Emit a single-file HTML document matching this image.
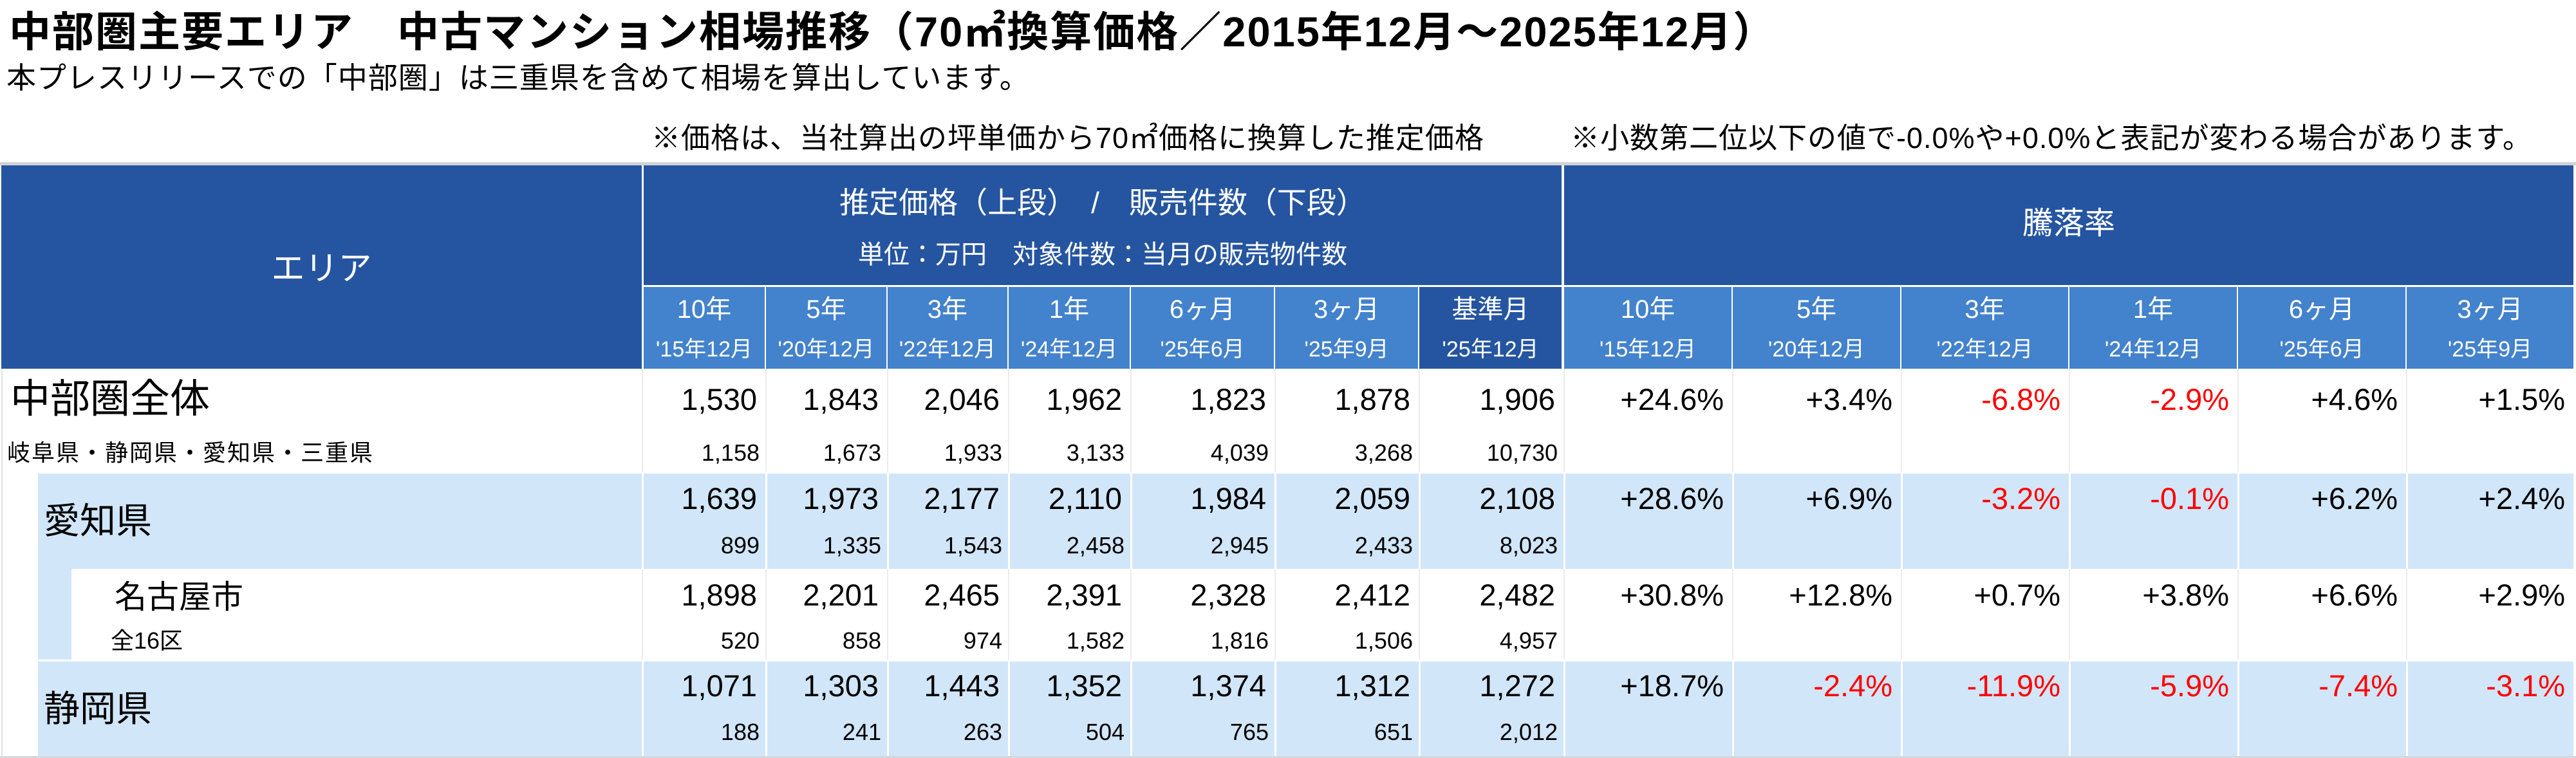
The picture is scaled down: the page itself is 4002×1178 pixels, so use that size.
<!DOCTYPE html>
<html><head><meta charset="utf-8">
<style>
*{margin:0;padding:0;box-sizing:border-box}
body{width:4002px;height:1178px;background:#fff;position:relative;overflow:hidden;font-family:"Liberation Sans","Noto Sans CJK JP",sans-serif;color:#000}
.a{position:absolute;white-space:nowrap}
.dk{background:#2555A0}
.lt{background:#4382CC}
.w{color:#fff;text-align:center}
table{position:absolute;left:997px;top:573px;border-collapse:separate;border-spacing:0;table-layout:fixed;width:3001px}
td{position:relative;padding:0;border-left:2px solid #ececec}
tr.b td{background:#D1E6F8;border-left:3px solid #fff}
tr.g td{border-top:3px solid #fff}
.big{position:absolute;right:13px;font-size:47px;line-height:48px}
.sm{position:absolute;right:9px;font-size:36px;line-height:40px}
.r{color:#f00}
.s2{font-size:34px;line-height:38px}
</style></head><body>
<div class="a" style="left:14px;top:12px;font-size:65px;font-weight:bold;line-height:76px;letter-spacing:2px">中部圏主要エリア　中古マンション相場推移（70㎡換算価格／2015年12月～2025年12月）</div>
<div class="a" style="left:10px;top:94px;font-size:46px;line-height:54px;letter-spacing:1px">本プレスリリースでの「中部圏」は三重県を含めて相場を算出しています。</div>
<div class="a" style="left:1012px;top:188px;font-size:45px;line-height:54px;letter-spacing:1px">※価格は、当社算出の坪単価から70㎡価格に換算した推定価格</div>
<div class="a" style="left:2440px;top:188px;font-size:45px;line-height:54px;letter-spacing:1px">※小数第二位以下の値で-0.0%や+0.0%と表記が変わる場合があります。</div>

<div class="a" style="left:0;top:252px;width:4002px;height:5px;background:#cfd3d8"></div>
<div class="a dk" style="left:2px;top:257px;width:995px;height:316px"></div>
<div class="a w" style="left:2px;top:388px;width:995px;font-size:52px;line-height:60px">エリア</div>
<div class="a dk" style="left:1000px;top:257px;width:1426px;height:186px"></div>
<div class="a w" style="left:1000px;top:288px;width:1426px;font-size:46px;line-height:54px">推定価格（上段）　/　販売件数（下段）</div>
<div class="a w" style="left:1000px;top:373px;width:1426px;font-size:40px;line-height:46px">単位：万円　対象件数：当月の販売物件数</div>
<div class="a dk" style="left:2430px;top:257px;width:1568px;height:186px"></div>
<div class="a w" style="left:2430px;top:320px;width:1568px;font-size:48px;line-height:56px">騰落率</div>

<!-- subheader -->
<div class="a lt" style="left:1000px;top:446px;width:188px;height:127px"></div>
<div class="a lt" style="left:1190px;top:446px;width:187px;height:127px"></div>
<div class="a lt" style="left:1379px;top:446px;width:186px;height:127px"></div>
<div class="a lt" style="left:1567px;top:446px;width:188px;height:127px"></div>
<div class="a lt" style="left:1757px;top:446px;width:222px;height:127px"></div>
<div class="a lt" style="left:1981px;top:446px;width:222px;height:127px"></div>
<div class="a dk" style="left:2205px;top:446px;width:221px;height:127px"></div>
<div class="a lt" style="left:2430px;top:446px;width:260px;height:127px"></div>
<div class="a lt" style="left:2692px;top:446px;width:260px;height:127px"></div>
<div class="a lt" style="left:2954px;top:446px;width:259px;height:127px"></div>
<div class="a lt" style="left:3215px;top:446px;width:260px;height:127px"></div>
<div class="a lt" style="left:3477px;top:446px;width:260px;height:127px"></div>
<div class="a lt" style="left:3739px;top:446px;width:259px;height:127px"></div>

<div class="a w" style="left:1000px;top:459px;width:188px;font-size:40px;line-height:44px">10年</div>
<div class="a w" style="left:1190px;top:459px;width:187px;font-size:40px;line-height:44px">5年</div>
<div class="a w" style="left:1379px;top:459px;width:186px;font-size:40px;line-height:44px">3年</div>
<div class="a w" style="left:1567px;top:459px;width:188px;font-size:40px;line-height:44px">1年</div>
<div class="a w" style="left:1757px;top:459px;width:222px;font-size:40px;line-height:44px">6ヶ月</div>
<div class="a w" style="left:1981px;top:459px;width:222px;font-size:40px;line-height:44px">3ヶ月</div>
<div class="a w" style="left:2205px;top:459px;width:221px;font-size:40px;line-height:44px">基準月</div>
<div class="a w" style="left:2430px;top:459px;width:260px;font-size:40px;line-height:44px">10年</div>
<div class="a w" style="left:2692px;top:459px;width:260px;font-size:40px;line-height:44px">5年</div>
<div class="a w" style="left:2954px;top:459px;width:259px;font-size:40px;line-height:44px">3年</div>
<div class="a w" style="left:3215px;top:459px;width:260px;font-size:40px;line-height:44px">1年</div>
<div class="a w" style="left:3477px;top:459px;width:260px;font-size:40px;line-height:44px">6ヶ月</div>
<div class="a w" style="left:3739px;top:459px;width:259px;font-size:40px;line-height:44px">3ヶ月</div>

<div class="a w s2" style="left:1000px;top:524px;width:188px">'15年12月</div>
<div class="a w s2" style="left:1190px;top:524px;width:187px">'20年12月</div>
<div class="a w s2" style="left:1379px;top:524px;width:186px">'22年12月</div>
<div class="a w s2" style="left:1567px;top:524px;width:188px">'24年12月</div>
<div class="a w s2" style="left:1757px;top:524px;width:222px">'25年6月</div>
<div class="a w s2" style="left:1981px;top:524px;width:222px">'25年9月</div>
<div class="a w s2" style="left:2205px;top:524px;width:221px">'25年12月</div>
<div class="a w s2" style="left:2430px;top:524px;width:260px">'15年12月</div>
<div class="a w s2" style="left:2692px;top:524px;width:260px">'20年12月</div>
<div class="a w s2" style="left:2954px;top:524px;width:259px">'22年12月</div>
<div class="a w s2" style="left:3215px;top:524px;width:260px">'24年12月</div>
<div class="a w s2" style="left:3477px;top:524px;width:260px">'25年6月</div>
<div class="a w s2" style="left:3739px;top:524px;width:259px">'25年9月</div>

<!-- area column body -->
<div class="a" style="left:2px;top:573px;width:2px;height:605px;background:#e2e2e2"></div>
<div class="a" style="left:59px;top:736px;width:938px;height:148px;background:#D1E6F8"></div>
<div class="a" style="left:59px;top:884px;width:52px;height:141px;background:#D1E6F8"></div>
<div class="a" style="left:59px;top:1028px;width:938px;height:147px;background:#D1E6F8"></div>
<div class="a" style="left:16px;top:586px;font-size:62px;line-height:70px">中部圏全体</div>
<div class="a" style="left:11px;top:684px;font-size:36px;line-height:40px;letter-spacing:2px">岐阜県・静岡県・愛知県・三重県</div>
<div class="a" style="left:68px;top:778px;font-size:56px;line-height:64px">愛知県</div>
<div class="a" style="left:178px;top:899px;font-size:50px;line-height:58px">名古屋市</div>
<div class="a" style="left:172px;top:976px;font-size:36px;line-height:40px">全16区</div>
<div class="a" style="left:68px;top:1070px;font-size:56px;line-height:64px">静岡県</div>

<table>
<colgroup><col style="width:192px"><col style="width:189px"><col style="width:188px"><col style="width:190px"><col style="width:224px"><col style="width:224px"><col style="width:225px"><col style="width:262px"><col style="width:262px"><col style="width:261px"><col style="width:262px"><col style="width:262px"><col style="width:260px"></colgroup>
<tr style="height:160px">
<td><div class="big" style="top:24px">1,530</div><div class="sm" style="top:111px">1,158</div></td>
<td><div class="big" style="top:24px">1,843</div><div class="sm" style="top:111px">1,673</div></td>
<td><div class="big" style="top:24px">2,046</div><div class="sm" style="top:111px">1,933</div></td>
<td><div class="big" style="top:24px">1,962</div><div class="sm" style="top:111px">3,133</div></td>
<td><div class="big" style="top:24px">1,823</div><div class="sm" style="top:111px">4,039</div></td>
<td><div class="big" style="top:24px">1,878</div><div class="sm" style="top:111px">3,268</div></td>
<td><div class="big" style="top:24px">1,906</div><div class="sm" style="top:111px">10,730</div></td>
<td><div class="big" style="top:24px">+24.6%</div></td>
<td><div class="big" style="top:24px">+3.4%</div></td>
<td><div class="big r" style="top:24px">-6.8%</div></td>
<td><div class="big r" style="top:24px">-2.9%</div></td>
<td><div class="big" style="top:24px">+4.6%</div></td>
<td><div class="big" style="top:24px">+1.5%</div></td>
</tr>
<tr class="b g" style="height:151px">
<td><div class="big" style="top:15px">1,639</div><div class="sm" style="top:92px">899</div></td>
<td><div class="big" style="top:15px">1,973</div><div class="sm" style="top:92px">1,335</div></td>
<td><div class="big" style="top:15px">2,177</div><div class="sm" style="top:92px">1,543</div></td>
<td><div class="big" style="top:15px">2,110</div><div class="sm" style="top:92px">2,458</div></td>
<td><div class="big" style="top:15px">1,984</div><div class="sm" style="top:92px">2,945</div></td>
<td><div class="big" style="top:15px">2,059</div><div class="sm" style="top:92px">2,433</div></td>
<td><div class="big" style="top:15px">2,108</div><div class="sm" style="top:92px">8,023</div></td>
<td><div class="big" style="top:15px">+28.6%</div></td>
<td><div class="big" style="top:15px">+6.9%</div></td>
<td><div class="big r" style="top:15px">-3.2%</div></td>
<td><div class="big r" style="top:15px">-0.1%</div></td>
<td><div class="big" style="top:15px">+6.2%</div></td>
<td><div class="big" style="top:15px">+2.4%</div></td>
</tr>
<tr style="height:141px">
<td><div class="big" style="top:17px">1,898</div><div class="sm" style="top:92px">520</div></td>
<td><div class="big" style="top:17px">2,201</div><div class="sm" style="top:92px">858</div></td>
<td><div class="big" style="top:17px">2,465</div><div class="sm" style="top:92px">974</div></td>
<td><div class="big" style="top:17px">2,391</div><div class="sm" style="top:92px">1,582</div></td>
<td><div class="big" style="top:17px">2,328</div><div class="sm" style="top:92px">1,816</div></td>
<td><div class="big" style="top:17px">2,412</div><div class="sm" style="top:92px">1,506</div></td>
<td><div class="big" style="top:17px">2,482</div><div class="sm" style="top:92px">4,957</div></td>
<td><div class="big" style="top:17px">+30.8%</div></td>
<td><div class="big" style="top:17px">+12.8%</div></td>
<td><div class="big" style="top:17px">+0.7%</div></td>
<td><div class="big" style="top:17px">+3.8%</div></td>
<td><div class="big" style="top:17px">+6.6%</div></td>
<td><div class="big" style="top:17px">+2.9%</div></td>
</tr>
<tr class="b g" style="height:150px">
<td><div class="big" style="top:14px">1,071</div><div class="sm" style="top:90px">188</div></td>
<td><div class="big" style="top:14px">1,303</div><div class="sm" style="top:90px">241</div></td>
<td><div class="big" style="top:14px">1,443</div><div class="sm" style="top:90px">263</div></td>
<td><div class="big" style="top:14px">1,352</div><div class="sm" style="top:90px">504</div></td>
<td><div class="big" style="top:14px">1,374</div><div class="sm" style="top:90px">765</div></td>
<td><div class="big" style="top:14px">1,312</div><div class="sm" style="top:90px">651</div></td>
<td><div class="big" style="top:14px">1,272</div><div class="sm" style="top:90px">2,012</div></td>
<td><div class="big" style="top:14px">+18.7%</div></td>
<td><div class="big r" style="top:14px">-2.4%</div></td>
<td><div class="big r" style="top:14px">-11.9%</div></td>
<td><div class="big r" style="top:14px">-5.9%</div></td>
<td><div class="big r" style="top:14px">-7.4%</div></td>
<td><div class="big r" style="top:14px">-3.1%</div></td>
</tr>
</table>
<div class="a" style="left:0;top:1175px;width:4002px;height:3px;background:#d5d8dc"></div>
</body></html>
